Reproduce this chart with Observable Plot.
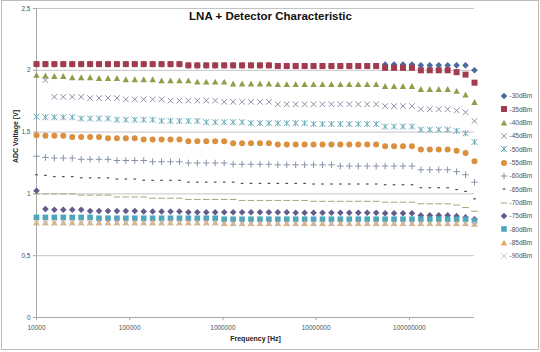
<!DOCTYPE html>
<html><head><meta charset="utf-8">
<script src="https://cdn.jsdelivr.net/npm/d3@7"></script>
<script src="https://cdn.jsdelivr.net/npm/@observablehq/plot@0.6"></script>
<style>
html,body{margin:0;padding:0;background:#fff;}
#wrap{position:relative;width:540px;height:352px;overflow:hidden;font-family:"Liberation Sans",Arial,sans-serif;}
#frame{position:absolute;left:1px;top:0;width:538px;height:350px;box-sizing:border-box;border:1px solid #bcbcbc;pointer-events:none;}
#chart{position:absolute;left:0;top:0;}
#legend{position:absolute;left:499px;top:89.3px;font-size:6.5px;color:#505050;}
.row{height:13.33px;display:flex;align-items:center;white-space:nowrap;}
.row svg{width:10px;height:10px;flex:none;}
.row span{margin-left:0.5px;}
</style></head><body>
<div id="wrap"><div id="chart"></div><div id="legend"></div><div id="frame"></div></div>
<script>
// ---------- data ----------
const freq = [10000,12470,15550,19390,24180,30150,37590,46870,58450,72880,
90880,113300,141300,176200,219700,274000,341600,426000,531200,662400,
825900,1032000,1287000,1605000,2002000,2496000,3112000,3881000,4839000,6035000,
7525000,9383000,11700000,14590000,18190000,22690000,28330000,35330000,44060000,54950000,
68530000,85450000,106600000,132900000,165700000,206700000,257700000,321300000,400700000,500000000];

const s30 = [2.05,2.05,2.05,2.05,2.05,2.05,2.05,2.05,2.05,2.05,
2.05,2.05,2.05,2.05,2.05,2.05,2.05,2.04,2.04,2.04,
2.04,2.04,2.04,2.04,2.04,2.04,2.04,2.035,2.035,2.035,
2.035,2.035,2.035,2.035,2.035,2.035,2.035,2.035,2.035,2.047,
2.047,2.047,2.047,2.04,2.04,2.04,2.04,2.04,2.04,2.0];
const s35 = [2.05,2.05,2.05,2.05,2.05,2.05,2.05,2.05,2.05,2.05,
2.05,2.05,2.05,2.05,2.05,2.05,2.05,2.04,2.04,2.04,
2.04,2.04,2.04,2.04,2.04,2.04,2.04,2.035,2.035,2.035,
2.035,2.035,2.035,2.035,2.035,2.035,2.035,2.035,2.035,2.02,
2.02,2.02,2.02,2.0,2.0,2.0,2.0,1.985,1.965,1.90];
const s40 = [1.96,1.955,1.95,1.95,1.94,1.94,1.94,1.935,1.935,1.935,
1.925,1.925,1.925,1.925,1.915,1.915,1.915,1.915,1.905,1.905,
1.905,1.905,1.89,1.89,1.89,1.89,1.89,1.885,1.885,1.885,
1.885,1.885,1.885,1.885,1.885,1.885,1.885,1.885,1.885,1.87,
1.87,1.87,1.87,1.845,1.845,1.845,1.845,1.83,1.80,1.74];
const s45 = [null,1.92,1.785,1.785,1.785,1.785,1.775,1.775,1.775,1.775,
1.765,1.765,1.765,1.765,1.765,1.755,1.755,1.755,1.755,1.755,
1.755,1.745,1.745,1.745,1.745,1.745,1.745,1.725,1.725,1.725,
1.725,1.725,1.725,1.725,1.725,1.725,1.725,1.725,1.725,1.71,
1.71,1.71,1.71,1.685,1.685,1.685,1.685,1.675,1.66,1.59];
const s50 = [1.625,1.62,1.62,1.62,1.62,1.61,1.61,1.61,1.61,1.60,
1.60,1.60,1.60,1.60,1.59,1.59,1.59,1.59,1.59,1.58,
1.58,1.58,1.58,1.58,1.572,1.572,1.572,1.572,1.572,1.572,
1.572,1.565,1.565,1.565,1.565,1.565,1.565,1.565,1.565,1.545,
1.545,1.545,1.545,1.52,1.52,1.52,1.52,1.51,1.49,1.42];
const s55 = [1.475,1.47,1.47,1.47,1.46,1.46,1.46,1.46,1.45,1.45,
1.45,1.45,1.44,1.44,1.44,1.44,1.44,1.425,1.425,1.425,
1.425,1.425,1.41,1.41,1.41,1.41,1.41,1.40,1.40,1.40,
1.40,1.40,1.40,1.40,1.40,1.40,1.40,1.40,1.40,1.385,
1.385,1.385,1.385,1.36,1.36,1.36,1.36,1.35,1.33,1.265];
const s60 = [1.305,1.295,1.29,1.29,1.29,1.28,1.28,1.28,1.28,1.27,
1.27,1.27,1.27,1.26,1.26,1.26,1.26,1.25,1.25,1.25,
1.25,1.25,1.24,1.24,1.24,1.24,1.24,1.235,1.235,1.235,
1.235,1.235,1.235,1.235,1.225,1.225,1.225,1.225,1.225,1.225,
1.225,1.225,1.225,1.195,1.195,1.195,1.195,1.18,1.155,1.095];
const s65 = [1.155,1.15,1.14,1.14,1.14,1.13,1.13,1.13,1.13,1.12,
1.12,1.12,1.11,1.11,1.11,1.11,1.11,1.095,1.095,1.095,
1.095,1.095,1.095,1.085,1.085,1.085,1.085,1.085,1.085,1.085,
1.085,1.08,1.08,1.08,1.08,1.08,1.08,1.08,1.08,1.074,
1.074,1.074,1.074,1.05,1.05,1.05,1.05,1.035,1.02,0.96];
const s70 = [1.0,1.0,1.0,1.0,1.0,0.99,0.99,0.99,0.99,0.975,
0.975,0.975,0.975,0.965,0.965,0.965,0.965,0.955,0.955,0.955,
0.955,0.955,0.955,0.947,0.947,0.947,0.947,0.947,0.947,0.947,
0.947,0.94,0.94,0.94,0.94,0.94,0.94,0.94,0.94,0.933,
0.933,0.933,0.933,0.92,0.92,0.92,0.92,0.91,0.89,0.86];
const s75 = [1.025,0.877,0.872,0.872,0.872,0.872,0.862,0.862,0.862,0.862,
0.862,0.862,0.857,0.857,0.857,0.857,0.857,0.852,0.852,0.852,
0.852,0.852,0.852,0.852,0.852,0.852,0.852,0.852,0.852,0.848,
0.848,0.848,0.848,0.848,0.848,0.848,0.848,0.848,0.848,0.844,
0.844,0.844,0.844,0.826,0.826,0.826,0.826,0.82,0.81,0.795];
const s80 = [0.81,0.81,0.81,0.81,0.81,0.81,0.81,0.803,0.803,0.803,
0.803,0.803,0.803,0.803,0.803,0.803,0.803,0.803,0.803,0.803,
0.803,0.795,0.795,0.795,0.795,0.795,0.795,0.795,0.795,0.795,
0.795,0.795,0.795,0.795,0.795,0.795,0.795,0.795,0.795,0.795,
0.795,0.795,0.795,0.795,0.795,0.795,0.795,0.795,0.795,0.783];
const s85 = [0.768,0.768,0.768,0.768,0.768,0.768,0.768,0.768,0.768,0.768,
0.768,0.768,0.768,0.768,0.768,0.768,0.768,0.768,0.768,0.768,
0.768,0.76,0.76,0.76,0.76,0.76,0.76,0.76,0.76,0.76,
0.76,0.76,0.76,0.76,0.76,0.76,0.76,0.76,0.76,0.76,
0.76,0.76,0.76,0.76,0.76,0.76,0.76,0.76,0.76,0.755];
const s90 = [0.765,0.765,0.765,0.765,0.765,0.765,0.765,0.765,0.765,0.765,
0.765,0.765,0.765,0.765,0.765,0.765,0.765,0.765,0.765,0.765,
0.765,0.758,0.758,0.758,0.758,0.758,0.758,0.758,0.758,0.758,
0.758,0.758,0.758,0.758,0.758,0.758,0.758,0.758,0.758,0.758,
0.758,0.758,0.758,0.758,0.758,0.758,0.758,0.758,0.758,0.758];

const seriesNames = ["-30dBm","-35dBm","-40dBm","-45dBm","-50dBm","-55dBm","-60dBm","-65dBm","-70dBm","-75dBm","-80dBm","-85dBm","-90dBm"];
const seriesValues = [s30,s35,s40,s45,s50,s55,s60,s65,s70,s75,s80,s85,s90];
const yTicks = [0, 0.5, 1, 1.5, 2, 2.5];
const xTicks = [10000, 100000, 1000000, 10000000, 100000000];
const xDomain = [10000, 500000000];
const title = "LNA + Detector Characteristic";
const xTitle = "Frequency [Hz]";
const yTitle = "ADC Voltage [V]";

// ---------- styles ----------
function poly(pts) {
  return {draw(c, size) {
    const r = Math.sqrt(size / Math.PI);
    c.moveTo(pts[0][0] * r, pts[0][1] * r);
    for (let i = 1; i < pts.length; i++) c.lineTo(pts[i][0] * r, pts[i][1] * r);
    c.closePath();
  }};
}
const symSquare = poly([[-1,-1],[1,-1],[1,1],[-1,1]]);
const symDiamond = poly([[0,-1],[1,0],[0,1],[-1,0]]);
const symTriangle = poly([[0,-1.05],[1,0.8],[-1,0.8]]);
const symCircle = {draw(c, size) { const r = Math.sqrt(size / Math.PI); c.moveTo(r, 0); c.arc(0, 0, r, 0, 2 * Math.PI); }};
const symX = {draw(c, size) { const r = Math.sqrt(size / Math.PI); c.moveTo(-r,-r); c.lineTo(r,r); c.moveTo(-r,r); c.lineTo(r,-r); }};
const symStar = {draw(c, size) { const r = Math.sqrt(size / Math.PI); c.moveTo(-r,-r); c.lineTo(r,r); c.moveTo(-r,r); c.lineTo(r,-r); c.moveTo(0,-r); c.lineTo(0,r); }};
const symPlus = {draw(c, size) { const r = Math.sqrt(size / Math.PI); c.moveTo(-r,0); c.lineTo(r,0); c.moveTo(0,-r); c.lineTo(0,r); }};
const symDash = {draw(c, size) { const r = Math.sqrt(size / Math.PI); c.moveTo(-r,0); c.lineTo(r,0); }};

const seriesStyles = [
  {symbol: symDiamond, r: 3.3, color: "#4a6aa0", filled: true},
  {symbol: symSquare, r: 3, color: "#a23b4d", filled: true},
  {symbol: symTriangle, r: 3.2, color: "#8e9f4a", filled: true},
  {symbol: symX, r: 2.8, color: "#928ca8", filled: false, sw: 1},
  {symbol: symStar, r: 3, color: "#6aaab8", filled: false, sw: 1},
  {symbol: symCircle, r: 3, color: "#da903f", filled: true},
  {symbol: symPlus, r: 3.3, color: "#8792a8", filled: false, sw: 1},
  {symbol: symDash, r: 1.3, color: "#5a4848", filled: false, sw: 1.2},
  {symbol: symDash, r: 3.3, color: "#aaa57a", filled: false, sw: 1},
  {symbol: symDiamond, r: 3.3, color: "#655a8a", filled: true},
  {symbol: symSquare, r: 2.8, color: "#4ba6be", filled: true},
  {symbol: symTriangle, r: 3.2, color: "#e9a862", filled: true},
  {symbol: symX, r: 2.8, color: "#b8c4da", filled: false, sw: 1}
];

// ---------- chart ----------
const dotMarks = seriesValues.map((vals, si) => {
  const st = seriesStyles[si];
  const data = freq.map((f, i) => ({f, v: vals[i]})).filter(d => d.v != null);
  return Plot.dot(data, {
    x: "f", y: "v", symbol: st.symbol, r: st.r,
    fill: st.filled ? st.color : "none",
    stroke: st.filled ? "none" : st.color,
    strokeWidth: st.sw || 1
  });
});

const chart = Plot.plot({
  width: 540, height: 352,
  marginTop: 8, marginLeft: 36, marginRight: 66, marginBottom: 35,
  style: {fontFamily: "'Liberation Sans', Arial, sans-serif", fontSize: "6.5px", color: "#505050", background: "transparent"},
  x: {type: "log", domain: xDomain},
  y: {domain: [yTicks[0], yTicks[yTicks.length - 1]]},
  marks: [
    Plot.gridY(yTicks.filter(d => d > 0), {stroke: "#c4c4c4", strokeOpacity: 1}),
    Plot.ruleY([yTicks[0]], {stroke: "#a8a8a8"}),
    Plot.ruleX([xDomain[0]], {stroke: "#a8a8a8"}),
    Plot.axisY({ticks: yTicks, tickFormat: d => String(d).replace(".", ","), tickSize: 3, tickPadding: 3, label: null, stroke: "#a8a8a8", fill: "#505050"}),
    Plot.axisX({ticks: xTicks, tickFormat: d => String(d), tickSize: 3, tickPadding: 5, label: null, stroke: "#a8a8a8", fill: "#505050"}),
    ...dotMarks,
    Plot.text([title], {text: d => d, frameAnchor: "top", lineAnchor: "top", dx: 15, dy: 3, fontWeight: "bold", fontSize: 11.5, fill: "#111"}),
    Plot.text([xTitle], {text: d => d, frameAnchor: "bottom", dy: 23, fontWeight: "bold", fontSize: 7, fill: "#222"}),
    Plot.text([yTitle], {text: d => d, frameAnchor: "left", rotate: -90, dx: -20.5, fontWeight: "bold", fontSize: 7, fill: "#222"})
  ]
});
document.getElementById("chart").appendChild(chart);

// ---------- legend ----------
const legend = d3.select("#legend");
seriesNames.forEach((name, i) => {
  const st = seriesStyles[i];
  const row = legend.append("div").attr("class", "row");
  const svg = row.append("svg").attr("viewBox", "-5 -5 10 10");
  const p = d3.path();
  st.symbol.draw(p, st.r * st.r * Math.PI);
  svg.append("path").attr("d", p.toString())
    .attr("fill", st.filled ? st.color : "none")
    .attr("stroke", st.filled ? "none" : st.color)
    .attr("stroke-width", st.sw || 1);
  row.append("span").text(name);
});
</script>
</body></html>
